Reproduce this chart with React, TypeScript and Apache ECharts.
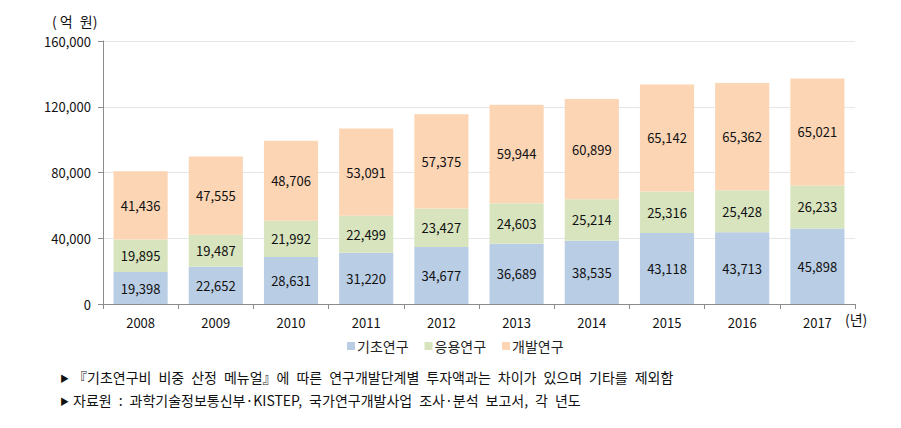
import React, { useEffect, useRef } from "react";
import * as echarts from "echarts";

const years = ["2008", "2009", "2010", "2011", "2012", "2013", "2014", "2015", "2016", "2017"];
const basic = [19398, 22652, 28631, 31220, 34677, 36689, 38535, 43118, 43713, 45898];
const applied = [19895, 19487, 21992, 22499, 23427, 24603, 25214, 25316, 25428, 26233];
const development = [41436, 47555, 48706, 53091, 57375, 59944, 60899, 65142, 65362, 65021];
const seriesNames = ["기초연구", "응용연구", "개발연구"];
const colors = ["#B9CDE5", "#D7E4BD", "#FCD5B5"];
const yTicks = { min: 0, max: 160000, interval: 40000 };
const notes = [
  "『기초연구비 비중 산정 메뉴얼』에 따른 연구개발단계별 투자액과는 차이가 있으며 기타를 제외함",
  "자료원 : 과학기술정보통신부·KISTEP, 국가연구개발사업 조사·분석 보고서, 각 년도",
];

const FONT = "'Noto Sans CJK KR', 'Noto Sans', sans-serif";

const widen = (s: string) => s.replace(/ /g, "\u2002");

export default function App() {
  const ref = useRef<HTMLDivElement>(null);
  useEffect(() => {
    document.body.style.margin = "0";
    const chart = echarts.init(ref.current!, null, { renderer: "svg" });
    const dataSets = [basic, applied, development];
    const noteText = (txt: string, top: number) => ({
      type: "group",
      left: 60,
      top,
      children: [
        { type: "text", x: 0, y: 4, style: { text: "▶", fontSize: 9, fill: "#111", fontFamily: FONT } },
        { type: "text", x: 13, y: 0, style: { text: widen(txt), fontSize: 14, fill: "#111", fontFamily: FONT } },
      ],
    });
    chart.setOption({
      animation: false,
      textStyle: { fontFamily: FONT },
      grid: { left: 103, right: 46, top: 41, bottom: 124, containLabel: false },
      legend: {
        data: seriesNames,
        left: 342,
        top: 334,
        itemWidth: 8,
        itemHeight: 8,
        itemGap: 16,
        icon: "rect",
        textStyle: { fontSize: 14, color: "#222", fontFamily: FONT, padding: [0, 0, 0, -3] },
      },
      xAxis: {
        type: "category",
        data: years,
        axisLine: { lineStyle: { color: "#8c8c8c", width: 1 } },
        axisTick: { show: true, alignWithLabel: false, length: 5, lineStyle: { color: "#8c8c8c" } },
        axisLabel: { color: "#111", fontSize: 13, margin: 12, fontFamily: FONT },
      },
      yAxis: {
        type: "value",
        min: yTicks.min,
        max: yTicks.max,
        interval: yTicks.interval,
        axisLine: { show: true, lineStyle: { color: "#8c8c8c" } },
        axisTick: { show: true, length: 5, lineStyle: { color: "#8c8c8c" } },
        splitLine: { lineStyle: { color: "#e6e6e6" } },
        axisLabel: {
          color: "#111",
          fontSize: 13,
          margin: 12,
          fontFamily: FONT,
          formatter: (v: number) => v.toLocaleString("en-US"),
        },
      },
      series: dataSets.map((d, i) => ({
        name: seriesNames[i],
        type: "bar",
        stack: "total",
        data: d,
        barCategoryGap: "28%",
        itemStyle: { color: colors[i] },
        label: {
          show: true,
          position: "inside",
          color: "#111",
          fontSize: 13,
          fontFamily: FONT,
          formatter: (p: any) => Number(p.value).toLocaleString("en-US"),
        },
      })),
      graphic: [
        { type: "text", left: 52, top: 14, style: { text: "( 억\u2002원)", fontSize: 14, fill: "#111", fontFamily: FONT } },
        { type: "text", left: 845, top: 312, style: { text: "(년)", fontSize: 14, fill: "#111", fontFamily: FONT } },
        noteText(notes[0], 370),
        noteText(notes[1], 393),
      ],
    });
    return () => chart.dispose();
  }, []);
  return <div ref={ref} style={{ width: 901, height: 428 }} />;
}
